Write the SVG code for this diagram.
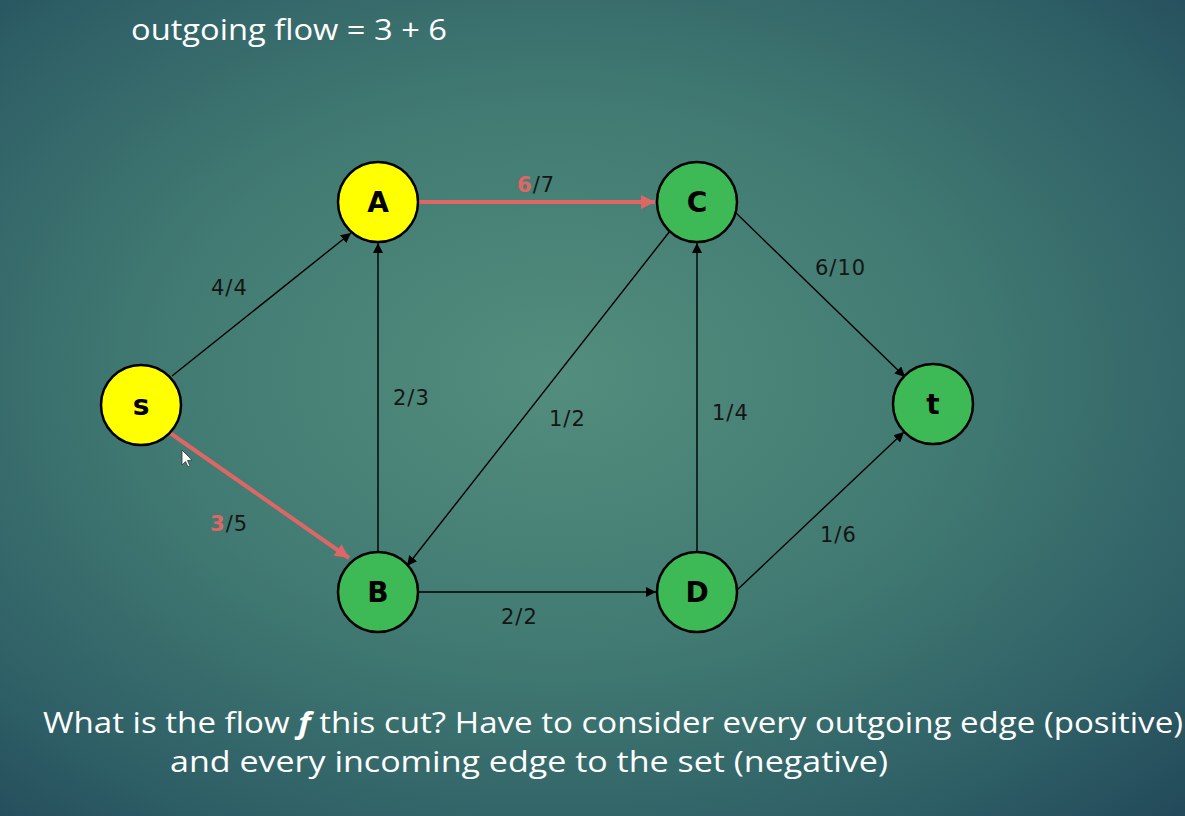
<svg xmlns="http://www.w3.org/2000/svg" width="1185" height="816" viewBox="0 0 1185 816">
  <defs>
    <radialGradient id="bg" cx="0.47" cy="0.46" r="0.75" fx="0.47" fy="0.46">
      <stop offset="0" stop-color="#538d7d"/>
      <stop offset="0.45" stop-color="#417a72"/>
      <stop offset="0.8" stop-color="#2e5f66"/>
      <stop offset="1" stop-color="#234a5a"/>
    </radialGradient>
    <marker id="arrow" viewBox="0 0 10 10" refX="10" refY="5" markerWidth="10" markerHeight="10" markerUnits="userSpaceOnUse" orient="auto">
      <path d="M0,0 L10,5 L0,10 z" fill="#000"/>
    </marker>
    <marker id="arrowRed" viewBox="0 0 10 10" refX="10" refY="5" markerWidth="14" markerHeight="14" markerUnits="userSpaceOnUse" orient="auto">
      <path d="M0,0 L10,5 L0,10 z" fill="#e06666"/>
    </marker>
    <style>
      .edge { stroke: #000; stroke-width: 1.4; fill: none; marker-end: url(#arrow); }
      .cut { stroke: #e06666; stroke-width: 4; fill: none; marker-end: url(#arrowRed); }
      .node circle { stroke: #000; stroke-width: 2.5; }
      .yellow circle { fill: #ffff00; }
      .green circle { fill: #3dba55; }
      .node text { font-family: "DejaVu Sans", sans-serif; font-weight: bold; font-size: 28px; fill: #000; text-anchor: middle; }
      .lbl { font-family: "DejaVu Sans", sans-serif; font-size: 21px; fill: #151515; letter-spacing: 1px; }
      .red { fill: #e06666; font-weight: bold; }
      .caption { font-family: "Open Sans", "DejaVu Sans", sans-serif; font-size: 29px; fill: #ffffff; }
    </style>
  </defs>

  <rect width="1185" height="816" fill="url(#bg)"/>

  <text class="caption" x="131" y="40" textLength="316" lengthAdjust="spacingAndGlyphs">outgoing flow = 3 + 6</text>

  <g id="connectors">
    <line class="edge" x1="172" y1="376" x2="351" y2="233"/>
    <line class="cut" x1="170" y1="433" x2="349" y2="558"/>
    <line class="edge" x1="378" y1="552" x2="378" y2="243"/>
    <line class="cut" x1="419" y1="202" x2="655" y2="202"/>
    <line class="edge" x1="670" y1="231" x2="407" y2="566"/>
    <line class="edge" x1="697" y1="552" x2="697" y2="243"/>
    <line class="edge" x1="735" y1="212" x2="905" y2="377"/>
    <line class="edge" x1="418" y1="592" x2="656" y2="592"/>
    <line class="edge" x1="736" y1="591" x2="904" y2="432"/>

    <text class="lbl" x="211" y="295">4/4</text>
    <text class="lbl" x="210" y="531"><tspan class="red">3</tspan>/5</text>
    <text class="lbl" x="393" y="405">2/3</text>
    <text class="lbl" x="517" y="192"><tspan class="red">6</tspan>/7</text>
    <text class="lbl" x="549" y="426">1/2</text>
    <text class="lbl" x="712" y="420">1/4</text>
    <text class="lbl" x="815" y="275">6/10</text>
    <text class="lbl" x="501" y="624">2/2</text>
    <text class="lbl" x="820" y="542">1/6</text>
  </g>

  <g id="node-s" class="node yellow">
    <circle cx="141" cy="405" r="40"/>
    <text x="141" y="415">s</text>
  </g>
  <g id="node-A" class="node yellow">
    <circle cx="378" cy="202" r="40"/>
    <text x="378" y="212">A</text>
  </g>
  <g id="node-C" class="node green">
    <circle cx="697" cy="202" r="40"/>
    <text x="697" y="212">C</text>
  </g>
  <g id="node-t" class="node green">
    <circle cx="933" cy="404" r="40"/>
    <text x="933" y="414">t</text>
  </g>
  <g id="node-B" class="node green">
    <circle cx="378" cy="592" r="40"/>
    <text x="378" y="602">B</text>
  </g>
  <g id="node-D" class="node green">
    <circle cx="697" cy="592" r="40"/>
    <text x="697" y="602">D</text>
  </g>

  <!-- mouse pointer -->
  <path d="M182,450 L182,465 L185.5,461.5 L188,467 L190,466 L187.5,460.5 L192,460 Z" fill="#ffffff" stroke="#333" stroke-width="0.8"/>

  <text class="caption" x="43" y="733" textLength="1140" lengthAdjust="spacingAndGlyphs">What is the flow <tspan font-weight="bold" font-style="italic">f</tspan> this cut? Have to consider every outgoing edge (positive)</text>
  <text class="caption" x="170" y="772" textLength="718" lengthAdjust="spacingAndGlyphs">and every incoming edge to the set (negative)</text>
</svg>
